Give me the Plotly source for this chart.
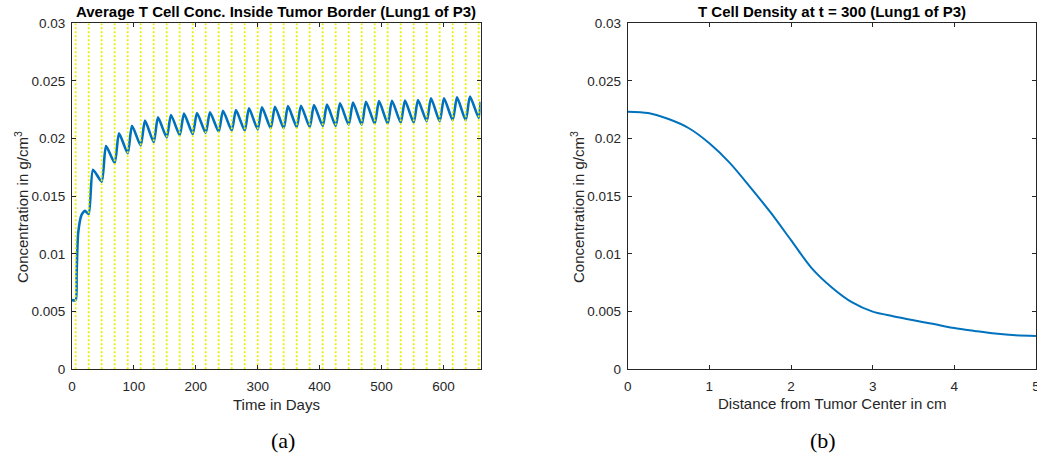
import plotly.graph_objects as go

# ---------------- data: left panel (average T cell concentration) ----------------
start_days = [0, 6, 7.5, 10, 15.6]
start_conc = [0.0060, 0.0060, 0.0083, 0.0118, 0.0134]

dose_days = [6, 27, 48, 69, 90, 111, 132, 153, 174, 195, 216, 237, 258, 279, 300, 321,
             342, 363, 384, 405, 426, 447, 468, 489, 510, 531, 552, 573, 594, 615, 636, 657]
trough_conc = [0.0060, 0.01347, 0.01627, 0.0179, 0.01873, 0.0194, 0.0197, 0.0201, 0.0203,
               0.0204, 0.0205, 0.0206, 0.0207, 0.0207, 0.0208, 0.0209, 0.0209, 0.0210,
               0.0210, 0.0211, 0.0211, 0.0212, 0.0212, 0.0213, 0.0213, 0.0214, 0.0214,
               0.0215, 0.0215, 0.0216, 0.0216, 0.0218]
peak_days = [21, 34, 55, 76, 97, 118, 139, 160, 181, 202, 223, 244, 265, 286, 307, 328,
             349, 370, 391, 412, 433, 454, 475, 496, 517, 538, 559, 580, 601, 622, 643]
peak_conc = [0.01375, 0.01730, 0.01936, 0.02046, 0.02112, 0.02156, 0.02185, 0.02205,
             0.02218, 0.02222, 0.02228, 0.02242, 0.02248, 0.02263, 0.02272, 0.02277,
             0.02283, 0.02285, 0.02292, 0.02295, 0.02306, 0.02312, 0.02320, 0.02325,
             0.02329, 0.02330, 0.02335, 0.02350, 0.02350, 0.02358, 0.02364]
end_day = 660
end_conc = 0.0232

# ---------------- data: right panel (density profile at t = 300) ----------------
distance_cm = [0, 0.25, 0.5, 0.75, 1.0, 1.25, 1.5, 1.75, 2.0, 2.25, 2.5, 2.75, 3.0,
               3.25, 3.5, 3.75, 4.0, 4.25, 4.5, 4.75, 5.0]
density = [0.02234, 0.02222, 0.0217, 0.0209, 0.0196, 0.0179, 0.0158, 0.0136, 0.0112,
           0.0088, 0.0071, 0.0058, 0.0050, 0.00460, 0.00425, 0.00392, 0.00358, 0.00333,
           0.00310, 0.00295, 0.00289]

x_ticks_left = [0, 100, 200, 300, 400, 500, 600]
y_ticks = [0, 0.005, 0.01, 0.015, 0.02, 0.025, 0.03]
y_tick_text = ["0", "0.005", "0.01", "0.015", "0.02", "0.025", "0.03"]
x_ticks_right = [0, 1, 2, 3, 4, 5]

# ---------------- build left series from read values ----------------
t_series = list(start_days)
c_series = list(start_conc)
for k in range(len(peak_days)):
    t_series.append(peak_days[k])
    c_series.append(peak_conc[k])
    t_series.append(dose_days[k + 1])
    c_series.append(trough_conc[k + 1])
t_series.append(end_day)
c_series.append(end_conc)

vx, vy = [], []
for d in dose_days:
    vx += [d, d, None]
    vy += [0, 0.03, None]

BLUE = "#0072BD"
AX = "#262626"
FONT = "Liberation Sans"
SERIF = "Liberation Serif"

fig = go.Figure()
fig.add_trace(go.Scatter(x=t_series, y=c_series, mode="lines",
                         line=dict(color=BLUE, width=2.6, shape="spline", smoothing=0.6),
                         xaxis="x", yaxis="y", showlegend=False, hoverinfo="skip"))
fig.add_trace(go.Scatter(x=vx, y=vy, mode="lines",
                         line=dict(color="#e8f000", width=1.8, dash="2px,2px"),
                         xaxis="x", yaxis="y", showlegend=False, hoverinfo="skip"))
fig.add_trace(go.Scatter(x=distance_cm, y=density, mode="lines",
                         line=dict(color=BLUE, width=2, shape="spline", smoothing=0.8),
                         xaxis="x2", yaxis="y2", showlegend=False, hoverinfo="skip"))

axis_common = dict(showline=True, linecolor=AX, linewidth=1, mirror="allticks",
                   ticks="inside", ticklen=4, tickcolor=AX, showgrid=False, zeroline=False,
                   ticklabeloverflow="allow", automargin=False,
                   tickfont=dict(family=FONT, size=13.5, color=AX))

Y0, Y1 = 0.2006, 0.9496
fig.update_layout(
    width=1037, height=462,
    margin=dict(l=0, r=0, t=0, b=0, autoexpand=False),
    paper_bgcolor="white", plot_bgcolor="white",
    xaxis=dict(domain=[0.0694, 0.4634], range=[0, 660], tickvals=x_ticks_left,
               anchor="y", ticklabelstandoff=4, **axis_common),
    yaxis=dict(domain=[Y0, Y1], range=[0, 0.03], tickvals=y_ticks, ticktext=y_tick_text,
               anchor="x", ticklabelstandoff=3, **axis_common),
    xaxis2=dict(domain=[0.6053, 0.9990], range=[0, 5], tickvals=x_ticks_right,
                anchor="y2", ticklabelstandoff=4, **axis_common),
    yaxis2=dict(domain=[Y0, Y1], range=[0, 0.03], tickvals=y_ticks, ticktext=y_tick_text,
                anchor="x2", ticklabelstandoff=3, **axis_common),
)

def ann(text, xpx, ypx, size, bold=False, angle=0, family=FONT, color=AX):
    fig.add_annotation(text=("<b>%s</b>" % text) if bold else text,
                       x=xpx / 1037, y=1 - ypx / 462, xref="paper", yref="paper",
                       xanchor="center", yanchor="middle", showarrow=False,
                       textangle=angle, font=dict(family=family, size=size, color=color))

ann("Average T Cell Conc. Inside Tumor Border (Lung1 of P3)", 276, 11, 15, bold=True, color="black")
ann("T Cell Density at t = 300 (Lung1 of P3)", 832, 11, 15, bold=True, color="black")
ann("Time in Days", 276, 404, 15)
ann("Distance from Tumor Center in cm", 832, 403, 15)
ann("Concentration in g/cm<sup>3</sup>", 21, 207, 15, angle=-90)
ann("Concentration in g/cm<sup>3</sup>", 577, 207, 15, angle=-90)
ann("(a)", 283, 440, 22, family=SERIF, color="black")
ann("(b)", 823, 440, 22, family=SERIF, color="black")

fig.write_html("out.html")
